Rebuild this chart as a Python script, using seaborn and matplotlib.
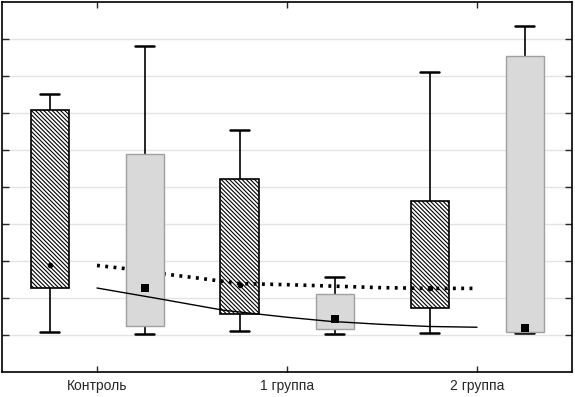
import numpy as np
import pandas as pd
import matplotlib
matplotlib.use('Agg')
import matplotlib.pyplot as plt
import seaborn as sns

sns.set_style('ticks')
plt.rcParams['font.family'] = ['Liberation Sans', 'DejaVu Sans']
plt.rcParams['hatch.linewidth'] = 0.8

# categories and box positions (hatched / grey pairs)
groups = ['Контроль', '1 группа', '2 группа']
group_ticks = [0.5, 2.5, 4.5]
positions = [0, 1, 2, 3, 4, 5]
kinds = ['hatch', 'grey', 'hatch', 'grey', 'hatch', 'grey']

# box statistics
whisker_lo = [1.08, 1.03, 1.11, 1.04, 1.06, 1.05]
box_lo = [2.27, 1.24, 1.57, 1.15, 1.72, 1.07]
box_hi = [7.09, 5.89, 5.22, 2.12, 4.61, 8.54]
whisker_hi = [7.51, 8.81, 6.53, 2.57, 8.11, 9.35]
means = [2.88, 2.26, 2.36, 1.42, 2.26, 1.19]

# trend curves
dotted_x = [0.5, 0.78, 1.27, 1.59, 2.0, 2.5, 3.0, 3.48, 4.0, 4.5]
dotted_y = [2.88, 2.80, 2.63, 2.53, 2.39, 2.36, 2.32, 2.28, 2.26, 2.26]
solid_x = [0.5, 1.13, 1.83, 2.5, 2.95, 3.48, 4.0, 4.5]
solid_y = [2.27, 1.99, 1.67, 1.48, 1.37, 1.29, 1.23, 1.21]

# five points per box -> quartiles land on box_lo / box_hi, whiskers at min/max
rows = []
for p, k, wl, bl, bh, wh in zip(positions, kinds, whisker_lo, box_lo, box_hi, whisker_hi):
    for v in [wl, bl, bl, bh, wh]:
        rows.append({'pos': p, 'value': v, 'kind': k})
df = pd.DataFrame(rows)

fig = plt.figure(figsize=(5.75, 3.97), dpi=100)
ax = fig.add_axes([2/575, 25/397, 570/575, 370/397])

sns.boxplot(
    data=df, x='pos', y='value', hue='kind',
    hue_order=['hatch', 'grey'],
    palette={'hatch': 'white', 'grey': '#d9d9d9'},
    native_scale=True, dodge=False, width=0.4,
    whis=(0, 100), showfliers=False, linecolor='black', linewidth=1.2,
    medianprops=dict(linewidth=0),
    capprops=dict(linewidth=1.8),
    legend=False, ax=ax,
)

for patch in ax.patches:
    fc = patch.get_facecolor()
    if fc[0] > 0.95:
        patch.set_hatch('\\' * 8)
        patch.set_edgecolor('black')
        patch.set_zorder(1)
    else:
        patch.set_edgecolor('#a0a0a0')
        patch.set_linewidth(1.0)
        patch.set_zorder(3)

sns.lineplot(x=dotted_x, y=dotted_y, color='black', linewidth=2.6,
             linestyle=(0, (0.8, 1.5)), sort=False, ax=ax, zorder=2)
sns.lineplot(x=solid_x, y=solid_y, color='black', linewidth=1.0,
             sort=False, ax=ax, zorder=4)

hatch_pos = [p for p, k in zip(positions, kinds) if k == 'hatch']
hatch_means = [m for m, k in zip(means, kinds) if k == 'hatch']
grey_pos = [p for p, k in zip(positions, kinds) if k == 'grey']
grey_means = [m for m, k in zip(means, kinds) if k == 'grey']
sns.scatterplot(x=hatch_pos, y=hatch_means, color='black', marker='o', s=16,
                linewidth=0, ax=ax, zorder=5)
sns.scatterplot(x=grey_pos, y=grey_means, color='black', marker='s', s=28,
                linewidth=0, ax=ax, zorder=5)

ax.set_xlim(-0.5, 5.5)
ax.set_ylim(0, 10)
ax.set_xticks(group_ticks)
ax.set_xticklabels(groups, fontsize=10)
ax.set_yticks(range(1, 10))
ax.set_yticklabels([])
ax.set_xlabel('')
ax.set_ylabel('')
ax.set_axisbelow(True)
ax.yaxis.grid(True, color='#e4e4e4', linewidth=1.0)
ax.tick_params(axis='y', direction='in', left=True, right=True, length=5, width=1)
ax.tick_params(axis='x', direction='in', bottom=True, top=True, length=4, width=1, pad=5)
for s in ax.spines.values():
    s.set_visible(True)
    s.set_linewidth(1.2)
    s.set_color('black')

fig.savefig('out.png', dpi=100)
